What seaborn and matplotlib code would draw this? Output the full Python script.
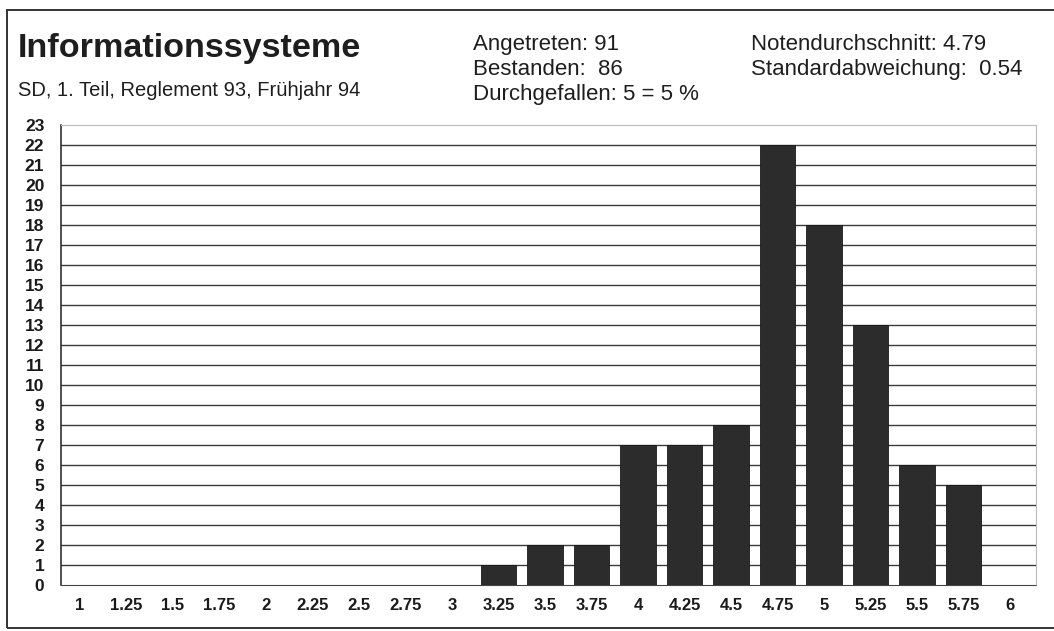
import matplotlib
matplotlib.use("Agg")
import matplotlib.pyplot as plt
import seaborn as sns
import pandas as pd
from matplotlib.patches import Rectangle

# grade categories and number of students per grade
grades = ["1", "1.25", "1.5", "1.75", "2", "2.25", "2.5", "2.75", "3", "3.25", "3.5",
          "3.75", "4", "4.25", "4.5", "4.75", "5", "5.25", "5.5", "5.75", "6"]
counts = [0, 0, 0, 0, 0, 0, 0, 0, 0, 1, 2, 2, 7, 7, 8, 22, 18, 13, 6, 5, 0]
y_ticks = list(range(0, 24))

title = "Informationssysteme"
subtitle = "SD, 1. Teil, Reglement 93, Frühjahr 94"
stats_left = ["Angetreten: 91", "Bestanden:  86", "Durchgefallen: 5 = 5 %"]
stats_right = ["Notendurchschnitt: 4.79", "Standardabweichung:  0.54"]

sns.set_style("white")
plt.rcParams["font.family"] = ["Liberation Sans", "DejaVu Sans"]

W, H = 1054, 631
fig = plt.figure(figsize=(W / 100, H / 100), dpi=100)
fig.patch.set_facecolor("white")

def fx(px):
    return px / W

def fy(py):
    return 1 - py / H

ax = fig.add_axes([fx(61), fy(585), fx(1036) - fx(61), fy(125) - fy(585)])

df = pd.DataFrame({"grade": grades, "count": counts})
sns.barplot(data=df, x="grade", y="count", order=grades, color="#2c2c2c",
            saturation=1, width=0.77, edgecolor="#1a1a1a", linewidth=0.6,
            ax=ax, zorder=3)

ax.set_xlim(-0.41, 20.56)
ax.set_ylim(0, 23)
ax.set_yticks(y_ticks)
ax.set_xlabel("")
ax.set_ylabel("")

# horizontal grid lines (1..22 solid), top and bottom dotted
for v in y_ticks[1:-1]:
    ax.axhline(v, color="#3a3a3a", linewidth=1.0, zorder=1)

for side in ["top", "right", "bottom"]:
    ax.spines[side].set_linestyle((0, (1, 1)))
ax.spines["top"].set_color("#bbbbbb")
ax.spines["right"].set_color("#bbbbbb")
ax.spines["bottom"].set_color("#444444")
ax.spines["left"].set_color("#222222")
ax.spines["left"].set_linewidth(1.1)

ax.tick_params(axis="y", direction="out", length=6, width=1, color="#222222",
               pad=6, labelsize=12.5)
ax.tick_params(axis="x", length=0, pad=9, labelsize=12)
for lab in ax.get_xticklabels() + ax.get_yticklabels():
    lab.set_fontweight("bold")
    lab.set_color("#1a1a1a")

# header texts
fig.text(fx(18), fy(57), title, fontsize=24.6, fontweight="bold", color="#1e1e1e",
         va="baseline", ha="left")
fig.text(fx(18), fy(96), subtitle, fontsize=14.5, color="#1e1e1e",
         va="baseline", ha="left")
for i, s in enumerate(stats_left):
    fig.text(fx(473), fy(50 + 25 * i), s, fontsize=16, color="#1e1e1e",
             va="baseline", ha="left")
for i, s in enumerate(stats_right):
    fig.text(fx(751), fy(50 + 25 * i), s, fontsize=16, color="#1e1e1e",
             va="baseline", ha="left")

# outer frame
fig.patches.append(Rectangle((fx(7), fy(628)), fx(1060) - fx(7), fy(10) - fy(628),
                             transform=fig.transFigure, fill=False,
                             edgecolor="#333333", linewidth=1.4))

fig.savefig("out.png", dpi=100, facecolor="white")
